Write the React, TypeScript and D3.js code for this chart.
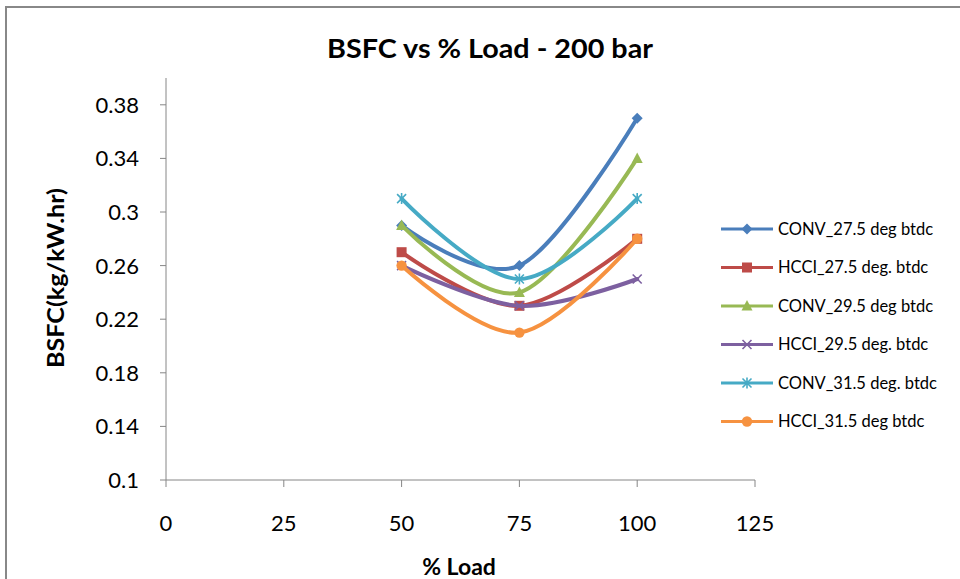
import React from "react";
import * as d3 from "d3";

const loads = [50, 75, 100];
const seriesNames = [
  "CONV_27.5 deg btdc",
  "HCCI_27.5 deg. btdc",
  "CONV_29.5 deg btdc",
  "HCCI_29.5 deg. btdc",
  "CONV_31.5 deg. btdc",
  "HCCI_31.5 deg btdc",
];
const conv275 = [0.29, 0.26, 0.37];
const hcci275 = [0.27, 0.23, 0.28];
const conv295 = [0.29, 0.24, 0.34];
const hcci295 = [0.26, 0.23, 0.25];
const conv315 = [0.31, 0.25, 0.31];
const hcci315 = [0.26, 0.21, 0.28];
const xTicks = [0, 25, 50, 75, 100, 125];
const yTicks = [0.1, 0.14, 0.18, 0.22, 0.26, 0.3, 0.34, 0.38];

const colors = ["#4A7EBB", "#BE4B48", "#98B954", "#7D60A0", "#46AAC5", "#F69240"];
const markers = ["diamond", "square", "triangle", "x", "star", "circle"];

const W = 960;
const H = 579;
const FONT = "Lato, 'Open Sans', sans-serif";

function Marker({ type, x, y, color }: { type: string; x: number; y: number; color: string }) {
  switch (type) {
    case "diamond":
      return <path d={`M${x},${y - 5.5}L${x + 5.5},${y}L${x},${y + 5.5}L${x - 5.5},${y}Z`} fill={color} />;
    case "square":
      return <rect x={x - 5} y={y - 5} width={10} height={10} fill={color} />;
    case "triangle":
      return <path d={`M${x},${y - 6}L${x + 5.5},${y + 4.5}L${x - 5.5},${y + 4.5}Z`} fill={color} />;
    case "x":
      return (
        <path d={`M${x - 4.5},${y - 4.5}L${x + 4.5},${y + 4.5}M${x - 4.5},${y + 4.5}L${x + 4.5},${y - 4.5}`} stroke={color} strokeWidth={1.6} />
      );
    case "star":
      return (
        <path
          d={`M${x - 4.5},${y - 4.5}L${x + 4.5},${y + 4.5}M${x - 4.5},${y + 4.5}L${x + 4.5},${y - 4.5}M${x},${y - 5.5}L${x},${y + 5.5}`}
          stroke={color}
          strokeWidth={1.6}
        />
      );
    default:
      return <circle cx={x} cy={y} r={5.2} fill={color} />;
  }
}

export default function App() {
  const series = [conv275, hcci275, conv295, hcci295, conv315, hcci315];
  const x = d3.scaleLinear().domain([0, 125]).range([166, 755]);
  const y = d3.scaleLinear().domain([0.1, 0.4]).range([480, 78]);
  const line = d3
    .line<[number, number]>()
    .x((d) => x(d[0]))
    .y((d) => y(d[1]))
    .curve(d3.curveCardinal.tension(0));

  const legendX = 721;
  const legendY0 = 229;
  const legendDy = 38.5;

  return (
    <svg width={W} height={H} style={{ position: "absolute", left: 0, top: 0, background: "#fff" }}>
      <rect x={0} y={0} width={W} height={H} fill="#fff" />
      <rect x={6} y={7} width={W + 20} height={H + 20} fill="none" stroke="#888" strokeWidth={2} />
      <text
        x={327}
        y={58}
        textLength={326}
        lengthAdjust="spacingAndGlyphs"
        fontFamily={FONT}
        fontWeight="bold"
        fontSize={26}
        fill="#000"
      >
        BSFC vs % Load - 200 bar
      </text>

      {/* axes */}
      <line x1={x(0)} x2={x(0)} y1={y(0.4)} y2={y(0.1)} stroke="#868686" strokeWidth={1} />
      <line x1={x(0)} x2={x(125)} y1={y(0.1)} y2={y(0.1)} stroke="#868686" strokeWidth={1} />
      {yTicks.map((t) => (
        <g key={t}>
          <line x1={x(0) - 6} x2={x(0)} y1={y(t)} y2={y(t)} stroke="#868686" />
          <text x={139} y={y(t)} dy="0.36em" textAnchor="end" fontFamily={FONT} fontSize={22} fill="#000">
            {String(t)}
          </text>
        </g>
      ))}
      {xTicks.map((t) => (
        <g key={t}>
          <line x1={x(t)} x2={x(t)} y1={y(0.1)} y2={y(0.1) + 7} stroke="#868686" />
          <text x={x(t)} y={531} textAnchor="middle" fontFamily={FONT} fontSize={22} fill="#000">
            {t}
          </text>
        </g>
      ))}
      <text x={459} y={575} textAnchor="middle" fontFamily={FONT} fontWeight="bold" fontSize={23} fill="#000">
        % Load
      </text>
      <text
        transform={`translate(64,278) rotate(-90)`}
        textAnchor="middle"
        textLength={180}
        lengthAdjust="spacingAndGlyphs"
        fontFamily={FONT}
        fontWeight="bold"
        fontSize={22}
        fill="#000"
      >
        BSFC(kg/kW.hr)
      </text>

      {/* series */}
      {series.map((vals, i) => {
        const pts = loads.map((l, j) => [l, vals[j]] as [number, number]);
        return (
          <g key={i}>
            <path d={line(pts) || ""} fill="none" stroke={colors[i]} strokeWidth={4} strokeLinecap="round" />
            {pts.map((p, j) => (
              <Marker key={j} type={markers[i]} x={x(p[0])} y={y(p[1])} color={colors[i]} />
            ))}
          </g>
        );
      })}

      {/* legend */}
      {seriesNames.map((name, i) => {
        const ly = legendY0 + i * legendDy;
        return (
          <g key={name}>
            <line x1={legendX} x2={legendX + 52} y1={ly} y2={ly} stroke={colors[i]} strokeWidth={3} />
            <Marker type={markers[i]} x={legendX + 26} y={ly} color={colors[i]} />
            <text x={778} y={ly} dy="0.36em" fontFamily={FONT} fontSize={16.5} fill="#000">
              {name}
            </text>
          </g>
        );
      })}
    </svg>
  );
}
